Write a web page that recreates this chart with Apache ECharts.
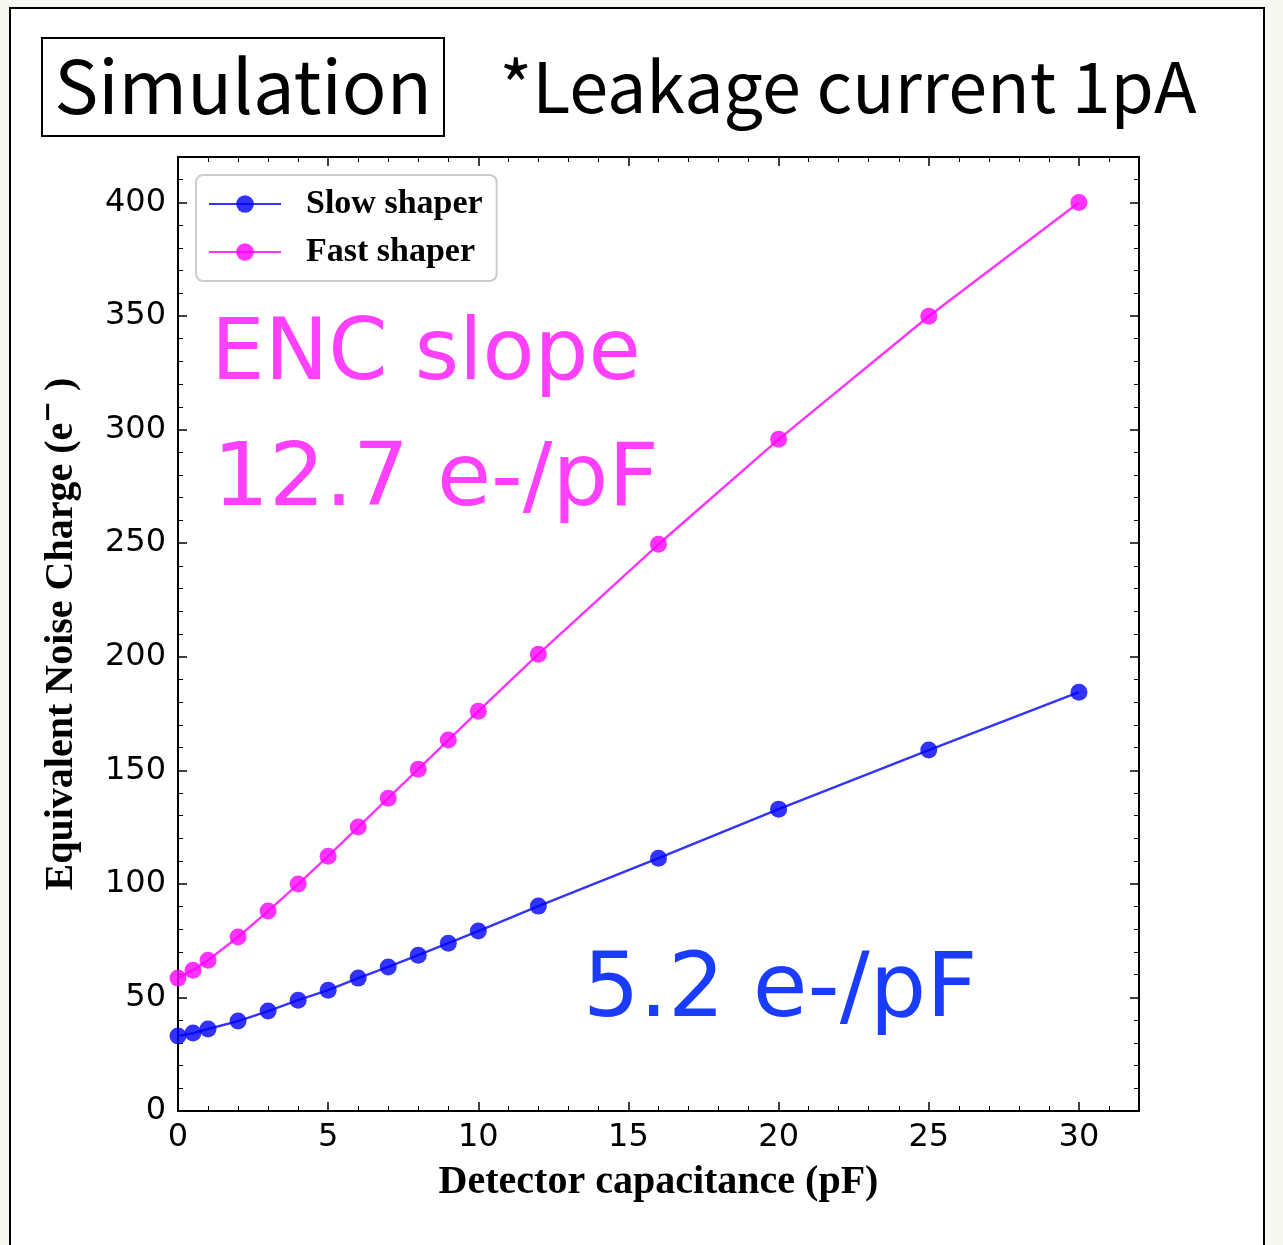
<!DOCTYPE html>
<html>
<head>
<meta charset="utf-8">
<script src="https://cdn.jsdelivr.net/npm/echarts@6/dist/echarts.min.js"></script>
<style>
html,body{margin:0;padding:0;background:#f8f8f2;}
#c{width:1283px;height:1245px;}
</style>
</head>
<body>
<div id="c"></div>
<script>
const capacitance = [0, 0.5, 1, 2, 3, 4, 5, 6, 7, 8, 9, 10, 12, 16, 20, 25, 30];
const slowShaper = [33.0, 34.3, 36.1, 39.6, 44.0, 48.8, 53.2, 58.5, 63.4, 68.6, 73.9, 79.2, 90.2, 111.3, 132.9, 158.9, 184.4];
const fastShaper = [58.5, 62.0, 66.4, 76.6, 88.0, 99.9, 112.2, 125.0, 137.7, 150.5, 163.3, 176.0, 201.1, 249.5, 295.7, 349.9, 400.0];
const seriesNames = ['Slow shaper', 'Fast shaper'];
const xTitle = 'Detector capacitance (pF)';
const yTitleMain = 'Equivalent Noise Charge (e';
const yTitleSup = '\u2212';
const yTitleEnd = ' )';
const headerBoxText = 'Simulation';
const headerText = '*Leakage current 1pA';
const noteFast1 = 'ENC slope';
const noteFast2 = '12.7 e-/pF';
const noteSlow = '5.2 e-/pF';

const blue = 'rgba(0,0,255,0.8)';
const magenta = 'rgba(255,0,255,0.8)';
const tickFont = 'DejaVu Sans';
const serif = 'Liberation Serif';
const sans = 'Noto Sans CJK JP';
const noteFont = 'DejaVu Sans';

const chart = echarts.init(document.getElementById('c'), null, {renderer: 'canvas'});

function axisCommon() {
  return {
    axisLine: {show: true, onZero: false, lineStyle: {color: '#000', width: 2}},
    axisTick: {show: true, inside: true, length: 9, lineStyle: {color: '#000', width: 1.5}},
    minorTick: {show: true, splitNumber: 5, length: 5, lineStyle: {color: '#000', width: 1}},
    splitLine: {show: false},
    minorSplitLine: {show: false}
  };
}

const xBottom = Object.assign(axisCommon(), {
  type: 'value', position: 'bottom', min: 0, max: 32, interval: 5,
  name: xTitle, nameLocation: 'middle', nameGap: 52,
  nameTextStyle: {fontFamily: serif, fontWeight: 'bold', fontSize: 40, color: '#000'},
  axisLabel: {show: true, fontFamily: tickFont, fontSize: 32, color: '#000', margin: 11, showMaxLabel: false}
});
const xTop = Object.assign(axisCommon(), {
  type: 'value', position: 'top', min: 0, max: 32, interval: 5,
  axisLabel: {show: false}
});
const yLeft = Object.assign(axisCommon(), {
  type: 'value', position: 'left', min: 0, max: 420, interval: 50,
  name: '{m|' + yTitleMain + '}{s|' + yTitleSup + '}{m|' + yTitleEnd + '}',
  nameLocation: 'middle', nameGap: 90, nameRotate: 90,
  nameTextStyle: {
    fontFamily: serif, fontWeight: 'bold', fontSize: 40, color: '#000',
    rich: {
      m: {fontFamily: serif, fontWeight: 'bold', fontSize: 40, color: '#000'},
      s: {fontFamily: 'DejaVu Sans', fontWeight: 'bold', fontSize: 26, color: '#000', padding: [0, 0, 26, 0]}
    }
  },
  axisLabel: {show: true, fontFamily: tickFont, fontSize: 32, color: '#000', margin: 12, showMaxLabel: false}
});
const yRight = Object.assign(axisCommon(), {
  type: 'value', position: 'right', min: 0, max: 420, interval: 50,
  axisLabel: {show: false}
});

function pairs(ys) { return capacitance.map((x, i) => [x, ys[i]]); }

const option = {
  backgroundColor: '#f8f8f2',
  animation: false,
  grid: {left: 178, top: 157, right: 144, bottom: 134, show: true, borderColor: '#000', borderWidth: 2, backgroundColor: 'transparent'},
  xAxis: [xBottom, xTop],
  yAxis: [yLeft, yRight],
  legend: {
    orient: 'vertical', left: 196, top: 175,
    padding: [12, 14, 12, 12],
    backgroundColor: '#fff', borderColor: '#cccccc', borderWidth: 2, borderRadius: 7,
    itemWidth: 72, itemHeight: 22, itemGap: 14,
    textStyle: {fontFamily: serif, fontWeight: 'bold', fontSize: 34, color: '#000', lineHeight: 34, padding: [0, 0, 0, 20]},
    data: seriesNames
  },
  graphic: [
    {type: 'rect', z: -10, shape: {x: 10, y: 8, width: 1254, height: 1260}, style: {fill: '#fff', stroke: '#000', lineWidth: 2}},
    {type: 'rect', z: 10, shape: {x: 42, y: 38, width: 402, height: 98}, style: {fill: '#fff', stroke: '#000', lineWidth: 2}},
    {type: 'text', z: 11, x: 243, y: 86, style: {text: headerBoxText, font: '400 74px "' + sans + '"', fill: '#000', align: 'center', verticalAlign: 'middle'}},
    {type: 'text', z: 11, x: 848, y: 86, style: {text: headerText, font: '400 70px "' + sans + '"', fill: '#000', align: 'center', verticalAlign: 'middle'}},
    {type: 'text', z: 11, x: 211, y: 357, style: {text: noteFast1, font: '400 85px "' + noteFont + '"', fill: '#ff40ff', align: 'left', verticalAlign: 'middle'}},
    {type: 'text', z: 11, x: 213, y: 482, style: {text: noteFast2, font: '400 88px "' + noteFont + '"', fill: '#ff40ff', align: 'left', verticalAlign: 'middle'}},
    {type: 'text', z: 11, x: 583, y: 993, style: {text: noteSlow, font: '400 89px "' + noteFont + '"', fill: '#1a3cff', align: 'left', verticalAlign: 'middle'}}
  ],
  series: [
    {
      name: seriesNames[0], type: 'line', xAxisIndex: 0, yAxisIndex: 0,
      data: pairs(slowShaper), symbol: 'circle', symbolSize: 17, showAllSymbol: true,
      itemStyle: {color: blue}, lineStyle: {color: blue, width: 2.4}, z: 3
    },
    {
      name: seriesNames[1], type: 'line', xAxisIndex: 0, yAxisIndex: 0,
      data: pairs(fastShaper), symbol: 'circle', symbolSize: 17, showAllSymbol: true,
      itemStyle: {color: magenta}, lineStyle: {color: magenta, width: 2.4}, z: 3
    }
  ]
};
chart.setOption(option);
</script>
</body>
</html>
